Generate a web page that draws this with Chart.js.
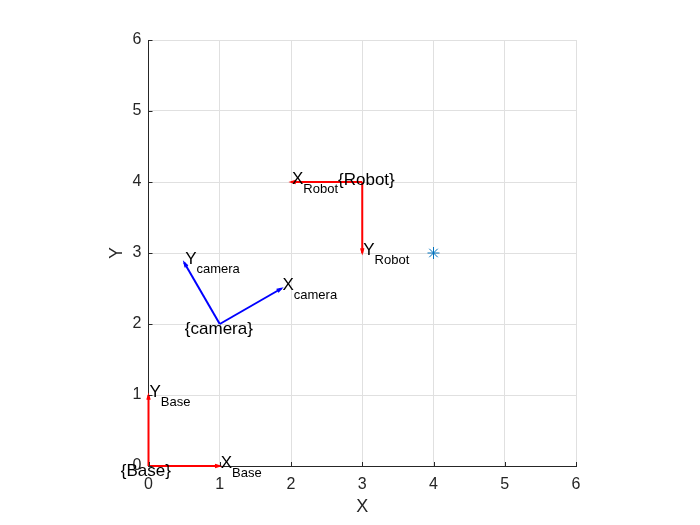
<!DOCTYPE html>
<html>
<head>
<meta charset="utf-8">
<script src="https://cdn.jsdelivr.net/npm/chart.js@4"></script>
<style>
  html, body { margin: 0; padding: 0; background: #fff; }
  #wrap { width: 700px; height: 525px; }
</style>
</head>
<body>
<div id="wrap"><canvas id="frames" width="700" height="525"></canvas></div>
<script>
// frames: origin, end of X axis, end of Y axis
const frameNames = ['Base', 'camera', 'Robot'];
const originX = [0, 1, 3];
const originY = [0, 2, 4];
const xAxisEndX = [1, 1.866, 2];
const xAxisEndY = [0, 2.5, 4];
const yAxisEndX = [0, 0.5, 3];
const yAxisEndY = [1, 2.866, 3];
const frameLabelX = [-0.39, 0.51, 2.66];
const frameLabelY = [-0.07, 1.93, 4.02];

const pointX = [4];
const pointY = [3];

const tickValues = [0, 1, 2, 3, 4, 5, 6];

const frameColors = { Base: '#ff0000', camera: '#0000ff', Robot: '#ff0000' };
const FONT = '"Liberation Sans", Arial, Helvetica, sans-serif';
const AXIS_COLOR = '#262626';
const GRID_COLOR = '#e0e0e0';

const datasets = [];
frameNames.forEach((name, i) => {
  [[xAxisEndX[i], xAxisEndY[i]], [yAxisEndX[i], yAxisEndY[i]]].forEach((end) => {
    datasets.push({
      type: 'line',
      data: [{ x: originX[i], y: originY[i] }, { x: end[0], y: end[1] }],
      borderColor: frameColors[name],
      borderWidth: 2,
      pointRadius: 0,
      clip: false
    });
  });
});
datasets.push({
  type: 'scatter',
  data: pointX.map((x, i) => ({ x: x, y: pointY[i] })),
  pointStyle: 'star',
  radius: 6,
  borderColor: '#0072bd',
  backgroundColor: '#0072bd',
  borderWidth: 1
});

function arrowHead(ctx, x0, y0, x1, y1, color) {
  const a = Math.atan2(y1 - y0, x1 - x0);
  const len = 5, spread = 0.3;
  ctx.save();
  ctx.strokeStyle = color;
  ctx.lineWidth = 1.5;
  ctx.beginPath();
  ctx.moveTo(x1 - len * Math.cos(a - spread), y1 - len * Math.sin(a - spread));
  ctx.lineTo(x1, y1);
  ctx.lineTo(x1 - len * Math.cos(a + spread), y1 - len * Math.sin(a + spread));
  ctx.stroke();
  ctx.restore();
}

function axisLabel(ctx, px, py, letter, sub) {
  ctx.save();
  ctx.fillStyle = '#000';
  ctx.textAlign = 'left';
  ctx.textBaseline = 'middle';
  ctx.font = '17px ' + FONT;
  ctx.fillText(letter, px + 1, py - 3);
  const w = ctx.measureText(letter).width;
  ctx.font = '13px ' + FONT;
  ctx.fillText(sub, px + 1 + w, py + 7);
  ctx.restore();
}

const framePlugin = {
  id: 'framePlugin',
  afterDatasetsDraw(chart) {
    const ctx = chart.ctx;
    const xs = chart.scales.x, ys = chart.scales.y;
    frameNames.forEach((name, i) => {
      const ox = xs.getPixelForValue(originX[i]), oy = ys.getPixelForValue(originY[i]);
      const ax = xs.getPixelForValue(xAxisEndX[i]), ay = ys.getPixelForValue(xAxisEndY[i]);
      const bx = xs.getPixelForValue(yAxisEndX[i]), by = ys.getPixelForValue(yAxisEndY[i]);
      arrowHead(ctx, ox, oy, ax, ay, frameColors[name]);
      arrowHead(ctx, ox, oy, bx, by, frameColors[name]);
      axisLabel(ctx, ax, ay, 'X', name);
      axisLabel(ctx, bx, by, 'Y', name);
      ctx.save();
      ctx.fillStyle = '#000';
      ctx.font = '17px ' + FONT;
      ctx.textAlign = 'left';
      ctx.textBaseline = 'middle';
      ctx.fillText('{' + name + '}', xs.getPixelForValue(frameLabelX[i]), ys.getPixelForValue(frameLabelY[i]));
      ctx.restore();
    });
  },
  afterDraw(chart) {
    // inward tick marks like the original
    const ctx = chart.ctx;
    const a = chart.chartArea;
    const xs = chart.scales.x, ys = chart.scales.y;
    ctx.save();
    ctx.strokeStyle = AXIS_COLOR;
    ctx.lineWidth = 1;
    ctx.beginPath();
    tickValues.forEach((v) => {
      const px = Math.round(xs.getPixelForValue(v)) + 0.5;
      ctx.moveTo(px, a.bottom);
      ctx.lineTo(px, a.bottom - 4);
      const py = Math.round(ys.getPixelForValue(v)) + 0.5;
      ctx.moveTo(a.left, py);
      ctx.lineTo(a.left + 4, py);
    });
    ctx.stroke();
    ctx.restore();
  }
};

function gridColor(c) {
  return c.tick && c.tick.value === 0 ? 'rgba(0,0,0,0)' : GRID_COLOR;
}

new Chart(document.getElementById('frames'), {
  type: 'scatter',
  data: { datasets: datasets },
  options: {
    responsive: false,
    animation: false,
    devicePixelRatio: 1,
    layout: { padding: { left: 106, right: 124, top: 40, bottom: 7 } },
    plugins: { legend: { display: false }, tooltip: { enabled: false } },
    scales: {
      x: {
        type: 'linear',
        min: 0,
        max: 6,
        afterBuildTicks: (s) => { s.ticks = tickValues.map((v) => ({ value: v })); },
        ticks: { color: AXIS_COLOR, font: { family: FONT, size: 16 }, padding: 9 },
        grid: { color: gridColor, drawTicks: false },
        border: { color: AXIS_COLOR, width: 1 },
        title: { display: true, text: 'X', color: AXIS_COLOR, font: { family: FONT, size: 18 }, padding: 0 },
        afterFit: (s) => { s.height = 52; }
      },
      y: {
        type: 'linear',
        min: 0,
        max: 6,
        afterBuildTicks: (s) => { s.ticks = tickValues.map((v) => ({ value: v })); },
        ticks: { color: AXIS_COLOR, font: { family: FONT, size: 16 }, padding: 7 },
        grid: { color: gridColor, drawTicks: false },
        border: { color: AXIS_COLOR, width: 1 },
        title: { display: true, text: 'Y', color: AXIS_COLOR, font: { family: FONT, size: 18 }, padding: 0 },
        afterFit: (s) => { s.width = 42.5; }
      }
    }
  },
  plugins: [framePlugin]
});
</script>
</body>
</html>
